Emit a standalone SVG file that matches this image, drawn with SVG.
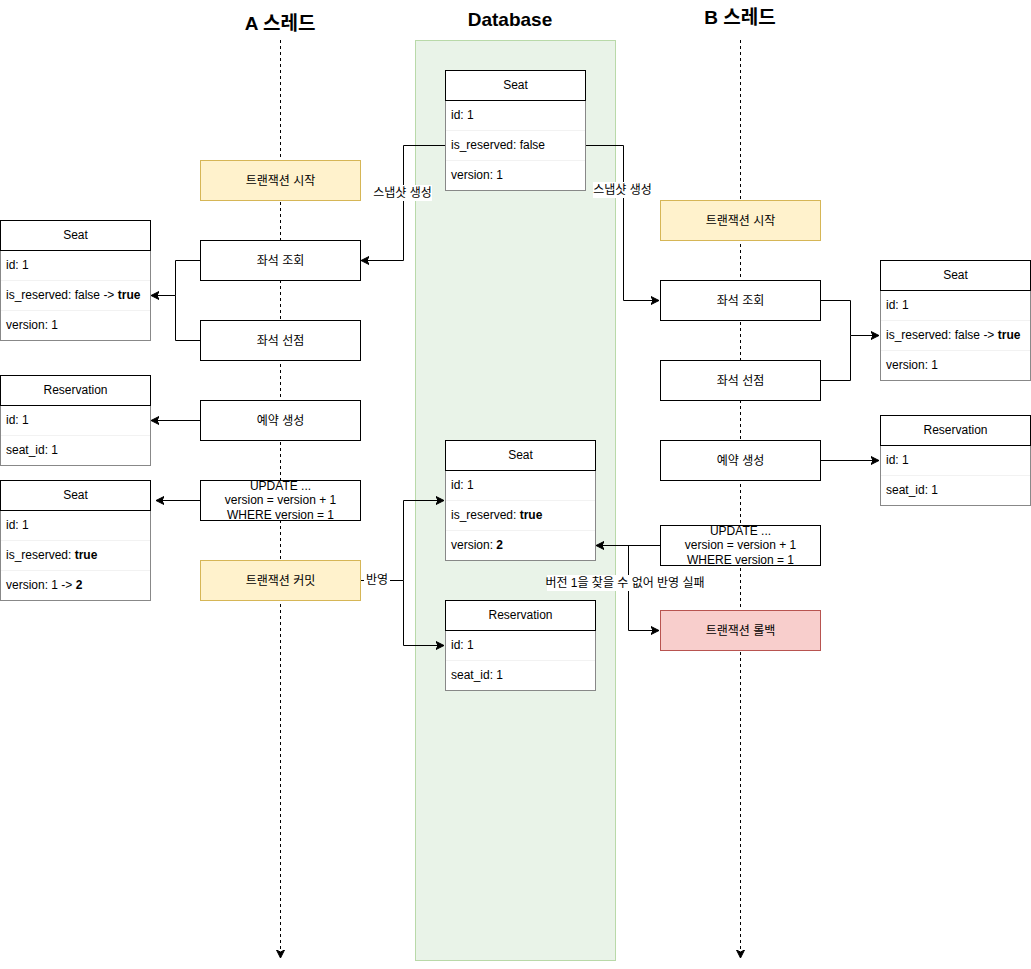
<svg xmlns="http://www.w3.org/2000/svg" width="1031" height="969" viewBox="0 0 1031 969">
<defs>
<style>
text{font-family:"Liberation Sans","Noto Sans CJK KR",Arial,sans-serif;font-size:12px;fill:#000}
.hd{font-size:19px;font-weight:bold;text-anchor:middle}
.c{text-anchor:middle}
.box{fill:#fff;stroke:#000;stroke-width:1}
.yel{fill:#fff2cc;stroke:#d6b656;stroke-width:1}
.red{fill:#f8cecc;stroke:#b85450;stroke-width:1}
.tb{fill:#fff;stroke:#000;stroke-width:1}
.body{fill:#fff;stroke:#888;stroke-width:1}
.sep{stroke:#f2f2f2;stroke-width:1}
.ln{fill:none;stroke:#000;stroke-width:1}
.life{fill:none;stroke:#000;stroke-width:1;stroke-dasharray:3 3}
.lbl{fill:#fff}
</style>
<marker id="arr" markerUnits="userSpaceOnUse" markerWidth="10" markerHeight="10" refX="8" refY="4.5" orient="auto" viewBox="0 0 10 9">
<path d="M0,0.5 L8,4.5 L0,8.5 L2,4.5 Z" fill="#000" stroke="#000" stroke-width="1" stroke-dasharray="none"/>
</marker>
</defs>
<rect width="1031" height="969" fill="#fff"/>

<g id="headers">
<text class="hd" x="280" y="30">A 스레드</text>
<text class="hd" x="510" y="26">Database</text>
<text class="hd" x="740" y="24">B 스레드</text>
</g>

<g id="database">
<rect x="415.5" y="40.5" width="200" height="920" fill="#e9f3e8" stroke="#b9d9a9"/>
</g>

<g id="lifelines">
<path class="life" d="M280.5,40 V958" marker-end="url(#arr)"/>
<path class="life" d="M740.5,40 V958" marker-end="url(#arr)"/>
</g>

<g id="connectors">
<path class="ln" d="M445,145.5 H403.5 V260.5 H361" marker-end="url(#arr)"/>
<path class="ln" d="M585,145.5 H623.5 V300.5 H659" marker-end="url(#arr)"/>
<path class="ln" d="M200,260.5 H175.5 V295.5 H151" marker-end="url(#arr)"/>
<path class="ln" d="M200,340.5 H175.5 V295.5"/>
<path class="ln" d="M200,420.5 H151" marker-end="url(#arr)"/>
<path class="ln" d="M200,500.5 H156" marker-end="url(#arr)"/>
<path class="ln" d="M820,300.5 H850.5 V335.5 H879" marker-end="url(#arr)"/>
<path class="ln" d="M820,380.5 H850.5 V335.5"/>
<path class="ln" d="M820,460.5 H879" marker-end="url(#arr)"/>
<path class="ln" d="M360,580.5 H403.5 V500.5 H444" marker-end="url(#arr)"/>
<path class="ln" d="M403.5,580.5 V645.5 H444" marker-end="url(#arr)"/>
<path class="ln" d="M660,545.5 H596" marker-end="url(#arr)"/>
<path class="ln" d="M628.5,545.5 V630.5 H659" marker-end="url(#arr)"/>
<rect class="lbl" x="373" y="185" width="59" height="16"/>
<text class="c" x="402.5" y="197">스냅샷 생성</text>
<rect class="lbl" x="593" y="182" width="59" height="16"/>
<text class="c" x="622.5" y="194">스냅샷 생성</text>
<rect class="lbl" x="364" y="572" width="26" height="16"/>
<text class="c" x="377" y="584">반영</text>
<rect class="lbl" x="547" y="575" width="157" height="16"/>
<text class="c" x="625" y="587">버전 1을 찾을 수 없어 반영 실패</text>
</g>

<g id="db-seat">
<rect class="body" x="445.5" y="70.5" width="140" height="120"/>
<rect class="tb" x="445.5" y="70.5" width="140" height="30"/>
<line class="sep" x1="446" y1="130.5" x2="585" y2="130.5"/>
<line class="sep" x1="446" y1="160.5" x2="585" y2="160.5"/>
<text class="c" x="515.5" y="89">Seat</text>
<text x="451" y="119">id: 1</text>
<text x="451" y="149">is_reserved: false</text>
<text x="451" y="179">version: 1</text>
</g>

<g id="db-seat2">
<rect class="body" x="445.5" y="440.5" width="150" height="120"/>
<rect class="tb" x="445.5" y="440.5" width="150" height="30"/>
<line class="sep" x1="446" y1="500.5" x2="595" y2="500.5"/>
<line class="sep" x1="446" y1="530.5" x2="595" y2="530.5"/>
<text class="c" x="520.5" y="459">Seat</text>
<text x="451" y="489">id: 1</text>
<text x="451" y="519">is_reserved: <tspan font-weight="bold">true</tspan></text>
<text x="451" y="549">version: <tspan font-weight="bold">2</tspan></text>
</g>

<g id="db-reservation">
<rect class="body" x="445.5" y="600.5" width="150" height="90"/>
<rect class="tb" x="445.5" y="600.5" width="150" height="30"/>
<line class="sep" x1="446" y1="660.5" x2="595" y2="660.5"/>
<text class="c" x="520.5" y="619">Reservation</text>
<text x="451" y="649">id: 1</text>
<text x="451" y="679">seat_id: 1</text>
</g>

<g id="a-start"><rect class="yel" x="200.5" y="160.5" width="160" height="40"/><text class="c" x="280.5" y="185">트랜잭션 시작</text></g>
<g id="a-read"><rect class="box" x="200.5" y="240.5" width="160" height="40"/><text class="c" x="280.5" y="265">좌석 조회</text></g>
<g id="a-take"><rect class="box" x="200.5" y="320.5" width="160" height="40"/><text class="c" x="280.5" y="345">좌석 선점</text></g>
<g id="a-create"><rect class="box" x="200.5" y="400.5" width="160" height="40"/><text class="c" x="280.5" y="425">예약 생성</text></g>
<g id="a-update"><rect class="box" x="200.5" y="480.5" width="160" height="40"/>
<text class="c" x="280.5" y="490">UPDATE ...</text>
<text class="c" x="280.5" y="504">version = version + 1</text>
<text class="c" x="280.5" y="519">WHERE version = 1</text></g>
<g id="a-commit"><rect class="yel" x="200.5" y="560.5" width="160" height="40"/><text class="c" x="280.5" y="585">트랜잭션 커밋</text></g>

<g id="a-seat">
<rect class="body" x="0.5" y="220.5" width="150" height="120"/>
<rect class="tb" x="0.5" y="220.5" width="150" height="30"/>
<line class="sep" x1="1" y1="280.5" x2="150" y2="280.5"/>
<line class="sep" x1="1" y1="310.5" x2="150" y2="310.5"/>
<text class="c" x="75.5" y="239">Seat</text>
<text x="6" y="269">id: 1</text>
<text x="6" y="299">is_reserved: false -&gt; <tspan font-weight="bold">true</tspan></text>
<text x="6" y="329">version: 1</text>
</g>

<g id="a-reservation">
<rect class="body" x="0.5" y="375.5" width="150" height="90"/>
<rect class="tb" x="0.5" y="375.5" width="150" height="30"/>
<line class="sep" x1="1" y1="435.5" x2="150" y2="435.5"/>
<text class="c" x="75.5" y="394">Reservation</text>
<text x="6" y="424">id: 1</text>
<text x="6" y="454">seat_id: 1</text>
</g>

<g id="a-seat2">
<rect class="body" x="0.5" y="480.5" width="150" height="120"/>
<rect class="tb" x="0.5" y="480.5" width="150" height="30"/>
<line class="sep" x1="1" y1="540.5" x2="150" y2="540.5"/>
<line class="sep" x1="1" y1="570.5" x2="150" y2="570.5"/>
<text class="c" x="75.5" y="499">Seat</text>
<text x="6" y="529">id: 1</text>
<text x="6" y="559">is_reserved: <tspan font-weight="bold">true</tspan></text>
<text x="6" y="589">version: 1 -&gt; <tspan font-weight="bold">2</tspan></text>
</g>

<g id="b-start"><rect class="yel" x="660.5" y="200.5" width="160" height="40"/><text class="c" x="740.5" y="225">트랜잭션 시작</text></g>
<g id="b-read"><rect class="box" x="660.5" y="280.5" width="160" height="40"/><text class="c" x="740.5" y="305">좌석 조회</text></g>
<g id="b-take"><rect class="box" x="660.5" y="360.5" width="160" height="40"/><text class="c" x="740.5" y="385">좌석 선점</text></g>
<g id="b-create"><rect class="box" x="660.5" y="440.5" width="160" height="40"/><text class="c" x="740.5" y="465">예약 생성</text></g>
<g id="b-update"><rect class="box" x="660.5" y="525.5" width="160" height="40"/>
<text class="c" x="740.5" y="535">UPDATE ...</text>
<text class="c" x="740.5" y="549">version = version + 1</text>
<text class="c" x="740.5" y="564">WHERE version = 1</text></g>
<g id="b-rollback"><rect class="red" x="660.5" y="610.5" width="160" height="40"/><text class="c" x="740.5" y="635">트랜잭션 롤백</text></g>

<g id="b-seat">
<rect class="body" x="880.5" y="260.5" width="150" height="120"/>
<rect class="tb" x="880.5" y="260.5" width="150" height="30"/>
<line class="sep" x1="881" y1="320.5" x2="1030" y2="320.5"/>
<line class="sep" x1="881" y1="350.5" x2="1030" y2="350.5"/>
<text class="c" x="955.5" y="279">Seat</text>
<text x="886" y="309">id: 1</text>
<text x="886" y="339">is_reserved: false -&gt; <tspan font-weight="bold">true</tspan></text>
<text x="886" y="369">version: 1</text>
</g>

<g id="b-reservation">
<rect class="body" x="880.5" y="415.5" width="150" height="90"/>
<rect class="tb" x="880.5" y="415.5" width="150" height="30"/>
<line class="sep" x1="881" y1="475.5" x2="1030" y2="475.5"/>
<text class="c" x="955.5" y="434">Reservation</text>
<text x="886" y="464">id: 1</text>
<text x="886" y="494">seat_id: 1</text>
</g>
</svg>
